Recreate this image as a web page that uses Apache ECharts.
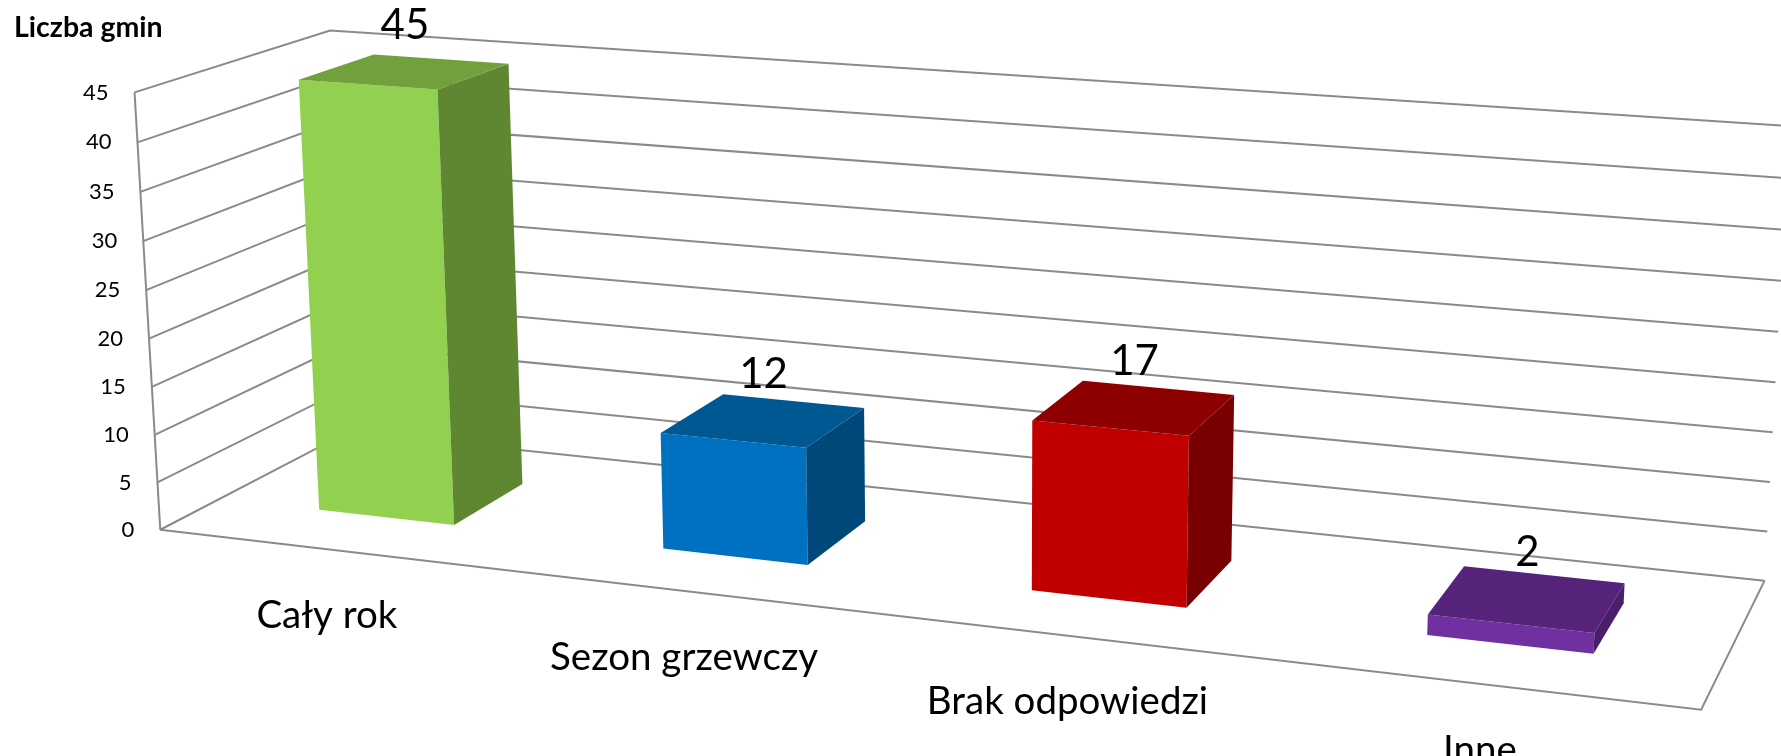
<!DOCTYPE html>
<html lang="pl">
<head>
<meta charset="UTF-8">
<title>Liczba gmin</title>
<script src="https://cdn.jsdelivr.net/npm/echarts/dist/echarts.min.js"></script>
<style>
  html, body { margin: 0; padding: 0; background: #fff; }
  #chartmain { width: 1781px; height: 756px; }
</style>
</head>
<body>
<div id="chartmain"></div>
<script type="text/javascript">

// dane
var kategorie = ['Cały rok', 'Sezon grzewczy', 'Brak odpowiedzi', 'Inne'];
var liczbaGmin = [45, 12, 17, 2];
var podzialka = [0, 5, 10, 15, 20, 25, 30, 35, 40, 45];

// kolory slupkow: przod, gora, bok
var kolory = [
    ['#92d050', '#72a03c', '#5f8732'],
    ['#0070c0', '#005893', '#00487a'],
    ['#c00000', '#8e0000', '#780000'],
    ['#7030a0', '#55237a', '#4a1e6b']
];

var czcionka = 'Lato';

// rama wykresu 3D: (u, v, z) w ukladzie 0..1 -> piksele ekranu
// u - wzdluz kategorii, v - wartosc, z - glebokosc (0 przod, 1 tyl)
var kotwice = [
    [0, 0, 0, 159.3, 530],
    [0, 5 / 45, 0, 158.3, 482.7],
    [0, 30 / 45, 0, 144, 240],
    [0, 35 / 45, 0, 141, 191.7],
    [0, 40 / 45, 0, 137, 142.7],
    [0, 1, 0, 134, 92.7],
    [0, 1, 1, 330, 30.7],
    [1, 0, 0, 1701, 710],
    [1, 0, 1, 1764, 580],
    [1, 5 / 45, 1, 1768, 531.7],
    [1, 10 / 45, 1, 1770, 482.3],
    [1, 15 / 45, 1, 1772.7, 432.3],
    [1, 20 / 45, 1, 1775.3, 382.3],
    [1, 25 / 45, 1, 1778.3, 331.7]
];

function rozwiaz(A, b) {
    var n = b.length, i, j, k;
    for (k = 0; k < n; k++) {
        var p = k;
        for (i = k + 1; i < n; i++) if (Math.abs(A[i][k]) > Math.abs(A[p][k])) p = i;
        var t = A[k]; A[k] = A[p]; A[p] = t;
        var tb = b[k]; b[k] = b[p]; b[p] = tb;
        for (i = k + 1; i < n; i++) {
            var f = A[i][k] / A[k][k];
            for (j = k; j < n; j++) A[i][j] -= f * A[k][j];
            b[i] -= f * b[k];
        }
    }
    var x = new Array(n);
    for (i = n - 1; i >= 0; i--) {
        var s = b[i];
        for (j = i + 1; j < n; j++) s -= A[i][j] * x[j];
        x[i] = s / A[i][i];
    }
    return x;
}

// macierz rzutu perspektywicznego (DLT, najmniejsze kwadraty)
function dopasuj(pkt) {
    var n = 11, ata = [], atb = [], i;
    for (i = 0; i < n; i++) { ata.push(new Array(n).fill(0)); atb.push(0); }
    function dodaj(r, w) {
        for (var a = 0; a < n; a++) {
            atb[a] += r[a] * w;
            for (var c = 0; c < n; c++) ata[a][c] += r[a] * r[c];
        }
    }
    pkt.forEach(function (p) {
        var X = p[0], Y = p[1], Z = p[2], x = p[3] / 1000, y = p[4] / 1000;
        dodaj([X, Y, Z, 1, 0, 0, 0, 0, -x * X, -x * Y, -x * Z], x);
        dodaj([0, 0, 0, 0, X, Y, Z, 1, -y * X, -y * Y, -y * Z], y);
    });
    return rozwiaz(ata, atb);
}

var M = dopasuj(kotwice);

function rzut(u, v, z) {
    var w = M[8] * u + M[9] * v + M[10] * z + 1;
    return [
        1000 * (M[0] * u + M[1] * v + M[2] * z + M[3]) / w,
        1000 * (M[4] * u + M[5] * v + M[6] * z + M[7]) / w
    ];
}

var linia = { stroke: '#8a8a8a', lineWidth: 2, fill: null };

function renderRama(params, api) {
    var cs = params.coordSys;
    var wart = api.value(1);
    var p = api.coord([0, wart]);
    var v = (cs.y + cs.height - p[1]) / cs.height;
    var a = rzut(0, v, 0), b = rzut(0, v, 1), c = rzut(1, v, 1);
    var el = [
        { type: 'polyline', shape: { points: [a, b, c] }, style: linia },
        {
            type: 'text', x: a[0] - 26, y: a[1],
            style: { text: String(wart), fill: '#000', fontFamily: czcionka, fontSize: 22, align: 'right', verticalAlign: 'middle' }
        }
    ];
    if (wart === 0) {
        el.push({ type: 'polyline', shape: { points: [rzut(0, 0, 0), rzut(1, 0, 0), rzut(1, 0, 1)] }, style: linia });
    }
    if (params.dataIndex === podzialka.length - 1) {
        el.push({ type: 'polyline', shape: { points: [rzut(0, 0, 0), rzut(0, v, 0)] }, style: linia });
    }
    return { type: 'group', children: el };
}

function renderSlupek(params, api) {
    var cs = params.coordSys;
    var i = api.value(0), wart = api.value(1);
    var gora = api.coord([i, wart]), dol = api.coord([i, 0]);
    var pol = api.size([1, 0])[0] * 0.2 / cs.width;
    var uc = (gora[0] - cs.x) / cs.width;
    var uL = uc - pol, uR = uc + pol;
    var vT = (cs.y + cs.height - gora[1]) / cs.height;
    var vB = (cs.y + cs.height - dol[1]) / cs.height;
    var zF = 0.3, zB = 0.7;
    var k = kolory[i];
    var srodekGory = rzut(uc, vT, (zF + zB) / 2);
    var podpis = rzut(uc, 0, 0);
    return {
        type: 'group',
        children: [
            { type: 'polygon', shape: { points: [rzut(uL, vB, zF), rzut(uR, vB, zF), rzut(uR, vT, zF), rzut(uL, vT, zF)] }, style: { fill: k[0] } },
            { type: 'polygon', shape: { points: [rzut(uR, vB, zF), rzut(uR, vB, zB), rzut(uR, vT, zB), rzut(uR, vT, zF)] }, style: { fill: k[2] } },
            { type: 'polygon', shape: { points: [rzut(uL, vT, zF), rzut(uR, vT, zF), rzut(uR, vT, zB), rzut(uL, vT, zB)] }, style: { fill: k[1] } },
            {
                type: 'text', x: srodekGory[0], y: srodekGory[1] - 46,
                style: { text: String(wart), fill: '#000', fontFamily: czcionka, fontSize: 42, align: 'center', verticalAlign: 'middle' }
            },
            {
                type: 'text', x: podpis[0] - 3, y: podpis[1] + 66,
                style: { text: kategorie[i], fill: '#000', fontFamily: czcionka, fontSize: 38.5, align: 'center', verticalAlign: 'middle' }
            }
        ]
    };
}

var option = {
    animation: false,
    backgroundColor: '#fff',
    title: {
        text: 'Liczba gmin',
        left: 9, top: 8,
        textStyle: { fontFamily: czcionka, fontWeight: 'bold', fontSize: 28.5, color: '#000' }
    },
    grid: { left: 0, right: 0, top: 0, bottom: 0 },
    xAxis: { type: 'category', data: kategorie, show: false },
    yAxis: { type: 'value', min: 0, max: 45, interval: 5, show: false },
    series: [
        {
            type: 'custom', name: 'rama', silent: true, clip: false,
            renderItem: renderRama,
            data: podzialka.map(function (t) { return [0, t]; }),
            z: 1
        },
        {
            type: 'custom', name: 'Liczba gmin', silent: true, clip: false,
            renderItem: renderSlupek,
            data: liczbaGmin.map(function (v, i) { return [i, v]; }),
            z: 2
        }
    ]
};

var myChart = echarts.init(document.getElementById('chartmain'));
myChart.setOption(option);

</script>
</body>
</html>
